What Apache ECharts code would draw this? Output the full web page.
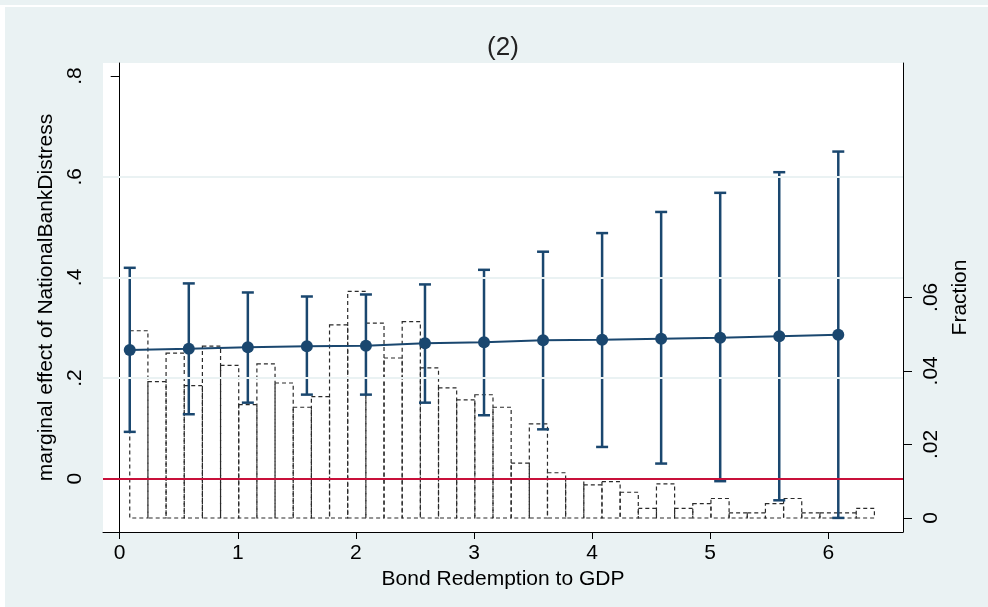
<!DOCTYPE html>
<html>
<head>
<meta charset="utf-8">
<script src="https://cdn.jsdelivr.net/npm/echarts@6/dist/echarts.min.js"></script>
<style>
  html, body { margin: 0; padding: 0; background: #eaf2f3; }
  #chart { width: 988px; height: 607px; }
</style>
</head>
<body>
<div id="chart"></div>
<script>
// marginal effect estimates
var xVals = [0.085, 0.585, 1.085, 1.585, 2.085, 2.585, 3.085, 3.585, 4.085, 4.585, 5.085, 5.585, 6.085];
var effect = [0.2555, 0.258, 0.261, 0.263, 0.264, 0.269, 0.271, 0.275, 0.276, 0.278, 0.280, 0.283, 0.286];
var ciLow = [0.093, 0.128, 0.151, 0.167, 0.167, 0.151, 0.126, 0.098, 0.063, 0.030, -0.005, -0.043, -0.078];
var ciHigh = [0.419, 0.388, 0.370, 0.362, 0.366, 0.386, 0.415, 0.451, 0.488, 0.530, 0.568, 0.609, 0.650];

// histogram of Bond Redemption to GDP
var binStart = 0.085;
var binWidth = 0.1538;
var fraction = [
  0.0509, 0.0371, 0.0448, 0.0360, 0.0467, 0.0415, 0.0308, 0.0419, 0.0367, 0.0301,
  0.0330, 0.0525, 0.0616, 0.0530, 0.0435, 0.0534, 0.0408, 0.0354, 0.0321, 0.0335,
  0.0301, 0.0149, 0.0256, 0.0123, 0.0107, 0.0090, 0.0099, 0.0070, 0.0026, 0.0093,
  0.0026, 0.0039, 0.0053, 0.0014, 0.0014, 0.0039, 0.0053, 0.0014, 0.0014, 0.0014,
  0.0026
];

// tick labels
var xTicks = [0, 1, 2, 3, 4, 5, 6];
var leftTicks = [0, 0.2, 0.4, 0.6, 0.8];
var leftTickLabels = ['0', '.2', '.4', '.6', '.8'];
var rightTicks = [0, 0.02, 0.04, 0.06];
var rightTickLabels = ['0', '.02', '.04', '.06'];
var gridTicks = [0.2, 0.4, 0.6];

var navy = '#1a476f';
var font = 'Liberation Sans, Arial, sans-serif';

function tickLabel(ticks, labels) {
  return function (v) {
    for (var i = 0; i < ticks.length; i++) {
      if (Math.abs(ticks[i] - v) < 1e-9) return labels[i];
    }
    return '';
  };
}

var histData = [];
for (var i = 0; i < fraction.length; i++) {
  histData.push([binStart + i * binWidth, binStart + (i + 1) * binWidth, fraction[i]]);
}
var ciData = [];
var lineData = [];
for (var j = 0; j < xVals.length; j++) {
  ciData.push([xVals[j], ciLow[j], ciHigh[j]]);
  lineData.push([xVals[j], effect[j]]);
}

var myChart = echarts.init(document.getElementById('chart'));

var option = {
  backgroundColor: '#eaf2f3',
  animation: false,
  textStyle: { fontFamily: font },
  title: {
    text: '(2)',
    left: 498,
    top: 30,
    textAlign: 'center',
    textStyle: { fontSize: 26, fontWeight: 'normal', color: '#222', fontFamily: font }
  },
  graphic: [
    { type: 'rect', shape: { x: 0, y: 5, width: 988, height: 2 }, style: { fill: '#fff' } },
    { type: 'rect', shape: { x: 0, y: 5, width: 5, height: 602 }, style: { fill: '#fff' } }
  ],
  grid: {
    left: 103,
    right: 85,
    top: 63,
    bottom: 75,
    show: true,
    backgroundColor: '#fff',
    borderWidth: 0
  },
  xAxis: {
    type: 'value',
    min: -0.1415,
    max: 6.633,
    name: 'Bond Redemption to GDP',
    nameLocation: 'middle',
    nameGap: 33,
    nameTextStyle: { fontSize: 21, color: '#000', fontFamily: font },
    axisLine: { onZero: false, lineStyle: { color: '#000', width: 1 } },
    axisTick: { customValues: xTicks, length: 7, lineStyle: { color: '#000' } },
    axisLabel: { customValues: xTicks, fontSize: 21, color: '#000', margin: 11 },
    splitLine: { show: false }
  },
  yAxis: [
    {
      type: 'value',
      min: -0.106,
      max: 0.826,
      name: 'marginal effect of NationalBankDistress',
      nameLocation: 'middle',
      nameGap: 46,
      nameTextStyle: { fontSize: 21, color: '#000', fontFamily: font },
      axisLine: { show: true, lineStyle: { color: '#000', width: 1 } },
      axisTick: { customValues: leftTicks, length: 9, lineStyle: { color: '#000' } },
      axisLabel: {
        customValues: leftTicks,
        rotate: 90,
        fontSize: 21,
        color: '#000',
        margin: 17,
        formatter: tickLabel(leftTicks, leftTickLabels)
      },
      splitLine: { show: false }
    },
    {
      type: 'value',
      position: 'right',
      min: -0.00381,
      max: 0.1237,
      name: 'Fraction',
      nameLocation: 'middle',
      nameGap: 42,
      nameRotate: 90,
      nameTextStyle: { fontSize: 21, color: '#000', fontFamily: font },
      axisLine: { show: true, lineStyle: { color: '#000', width: 1 } },
      axisTick: { customValues: rightTicks, length: 9, lineStyle: { color: '#000' } },
      axisLabel: {
        customValues: rightTicks,
        rotate: 90,
        fontSize: 21,
        color: '#000',
        margin: 18,
        formatter: tickLabel(rightTicks, rightTickLabels)
      },
      splitLine: { show: false }
    }
  ],
  series: [
    {
      name: 'grid',
      type: 'line',
      data: [],
      yAxisIndex: 0,
      silent: true,
      z: 1,
      markLine: {
        symbol: 'none',
        silent: true,
        label: { show: false },
        lineStyle: { color: '#eaf2f3', width: 2, type: 'solid' },
        data: gridTicks.map(function (v) { return { yAxis: v }; })
      }
    },
    {
      name: 'Fraction',
      type: 'custom',
      yAxisIndex: 1,
      z: 2,
      data: histData,
      encode: { x: [0, 1], y: 2 },
      renderItem: function (params, api) {
        var p0 = api.coord([api.value(0), 0]);
        var p1 = api.coord([api.value(1), api.value(2)]);
        return {
          type: 'rect',
          shape: { x: p0[0], y: p1[1], width: p1[0] - p0[0], height: p0[1] - p1[1] },
          style: { fill: 'none', stroke: '#2a2a2a', lineWidth: 1.2, lineDash: [4, 3] }
        };
      }
    },
    {
      name: 'zero',
      type: 'line',
      data: [],
      yAxisIndex: 0,
      z: 3,
      markLine: {
        symbol: 'none',
        silent: true,
        label: { show: false },
        lineStyle: { color: '#c8103a', width: 2, type: 'solid' },
        data: [{ yAxis: 0 }]
      }
    },
    {
      name: 'CI',
      type: 'custom',
      yAxisIndex: 0,
      z: 4,
      data: ciData,
      encode: { x: 0, y: [1, 2] },
      renderItem: function (params, api) {
        var lo = api.coord([api.value(0), api.value(1)]);
        var hi = api.coord([api.value(0), api.value(2)]);
        var half = 6;
        var st = { stroke: navy, lineWidth: 2.5 };
        return {
          type: 'group',
          children: [
            { type: 'line', shape: { x1: lo[0], y1: lo[1], x2: hi[0], y2: hi[1] }, style: st },
            { type: 'line', shape: { x1: lo[0] - half, y1: lo[1], x2: lo[0] + half, y2: lo[1] }, style: st },
            { type: 'line', shape: { x1: hi[0] - half, y1: hi[1], x2: hi[0] + half, y2: hi[1] }, style: st }
          ]
        };
      }
    },
    {
      name: 'effect',
      type: 'line',
      yAxisIndex: 0,
      z: 5,
      data: lineData,
      symbol: 'circle',
      symbolSize: 12,
      itemStyle: { color: navy },
      lineStyle: { color: navy, width: 2 }
    }
  ]
};

myChart.setOption(option);
</script>
</body>
</html>
